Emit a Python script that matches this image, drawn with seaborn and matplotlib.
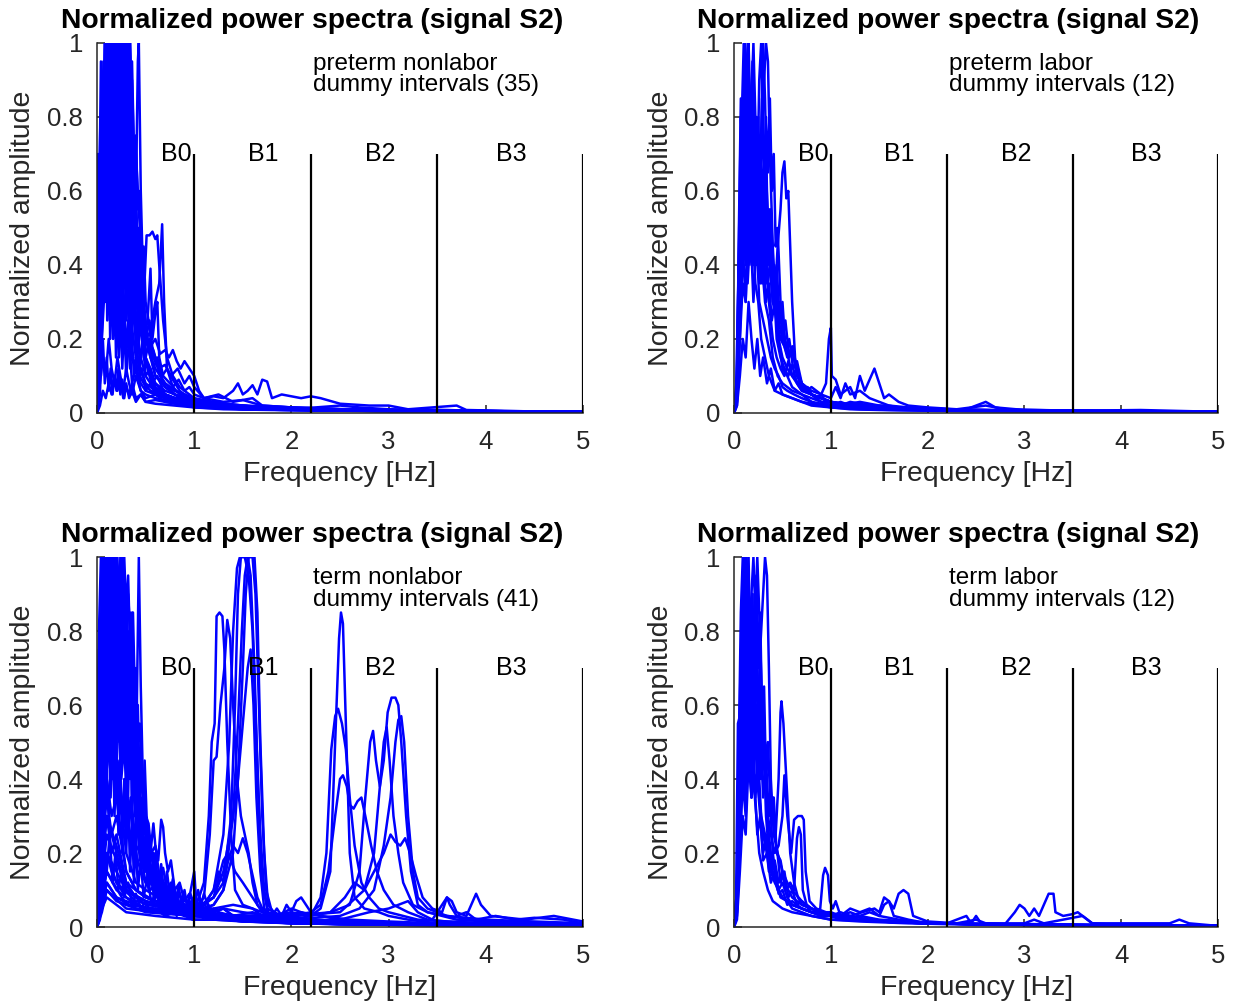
import numpy as np
import pandas as pd
import seaborn as sns
import matplotlib.pyplot as plt

# ---------------------------------------------------------------- data
# every curve is a list of (frequency [Hz], normalized amplitude)

TITLE = "Normalized power spectra (signal S2)"
PANEL_NOTES = ["preterm nonlabor\ndummy intervals (35)",
               "preterm labor\ndummy intervals (12)",
               "term nonlabor\ndummy intervals (41)",
               "term labor\ndummy intervals (12)"]

BAND_EDGES = [1.0, 2.2, 3.5, 5.0]
BAND_NAMES = ["B0", "B1", "B2", "B3"]
BAND_LABEL_X = [0.82, 1.71, 2.91, 4.26]

X_TICKS = [0, 1, 2, 3, 4, 5]
Y_TICKS = [0, 0.2, 0.4, 0.6, 0.8, 1]
Y_TICK_LABELS = ["0", "0.2", "0.4", "0.6", "0.8", "1"]

preterm_nonlabor = [
    [(0,0.10),(0.03,0.45),(0.05,0.92),(0.07,0.55),(0.1,0.7),(0.13,0.4),(0.16,0.6),(0.2,0.35),(0.24,0.5),(0.28,0.25),(0.32,0.3),(0.36,0.15),(0.4,0.12),(0.45,0.08),(0.5,0.06),(0.6,0.05),(0.7,0.04),(0.85,0.03),(1.0,0.02),(1.3,0.015),(1.6,0.01),(2.2,0.008),(3.0,0.005),(4.0,0.004),(5.0,0.003)],
    [(0,0.3),(0.03,0.6),(0.06,0.8),(0.09,0.95),(0.12,1.0),(0.14,0.85),(0.17,1.0),(0.2,0.75),(0.23,0.9),(0.26,0.55),(0.3,0.6),(0.33,0.35),(0.37,0.3),(0.41,0.18),(0.45,0.15),(0.5,0.1),(0.55,0.08),(0.62,0.06),(0.7,0.05),(0.8,0.04),(0.9,0.035),(1.0,0.03),(1.2,0.02),(1.5,0.015),(2.0,0.01),(2.6,0.008),(3.5,0.005),(5.0,0.003)],
    [(0,0.05),(0.03,0.2),(0.06,0.35),(0.09,0.5),(0.12,0.45),(0.15,0.7),(0.18,0.6),(0.21,0.85),(0.24,1.0),(0.27,0.9),(0.3,1.0),(0.33,0.8),(0.36,0.9),(0.39,0.6),(0.42,0.45),(0.46,0.3),(0.5,0.2),(0.55,0.15),(0.6,0.12),(0.7,0.08),(0.8,0.05),(0.9,0.04),(1.0,0.03),(1.2,0.02),(1.5,0.02),(1.8,0.012),(2.3,0.01),(3.0,0.006),(4.0,0.004),(5.0,0.003)],
    [(0,0.02),(0.03,0.1),(0.06,0.25),(0.09,0.4),(0.12,0.3),(0.15,0.55),(0.18,0.45),(0.21,0.65),(0.24,0.5),(0.27,0.75),(0.3,0.6),(0.33,0.8),(0.36,0.5),(0.39,0.4),(0.42,0.95),(0.43,1.0),(0.45,0.6),(0.48,0.3),(0.52,0.2),(0.56,0.15),(0.6,0.1),(0.7,0.07),(0.8,0.05),(0.9,0.04),(1.0,0.03),(1.2,0.02),(1.5,0.015),(2.0,0.01),(3.0,0.006),(5.0,0.003)],
    [(0,0.15),(0.03,0.4),(0.06,0.6),(0.09,0.85),(0.12,0.7),(0.15,1.0),(0.18,0.8),(0.21,0.95),(0.24,0.7),(0.27,0.8),(0.3,0.55),(0.33,0.65),(0.36,0.45),(0.4,0.5),(0.44,0.35),(0.48,0.3),(0.51,0.48),(0.54,0.48),(0.57,0.49),(0.6,0.47),(0.62,0.48),(0.64,0.4),(0.68,0.25),(0.72,0.15),(0.78,0.1),(0.85,0.07),(0.95,0.05),(1.05,0.03),(1.3,0.02),(1.6,0.015),(2.0,0.01),(3.0,0.006),(5.0,0.003)],
    [(0,0.08),(0.03,0.3),(0.06,0.5),(0.09,0.7),(0.12,0.9),(0.15,0.75),(0.18,1.0),(0.21,0.85),(0.24,0.95),(0.27,0.7),(0.3,0.85),(0.33,0.6),(0.36,0.55),(0.39,0.4),(0.42,0.35),(0.46,0.25),(0.5,0.2),(0.55,0.22),(0.6,0.3),(0.64,0.35),(0.67,0.51),(0.69,0.3),(0.72,0.12),(0.78,0.09),(0.85,0.06),(0.95,0.04),(1.05,0.03),(1.3,0.02),(1.7,0.012),(2.2,0.008),(3.0,0.005),(5.0,0.003)],
    [(0,0.2),(0.03,0.5),(0.06,0.75),(0.09,0.6),(0.12,0.85),(0.15,0.65),(0.18,0.9),(0.21,1.0),(0.24,0.8),(0.27,0.9),(0.3,0.65),(0.33,0.7),(0.36,0.45),(0.4,0.3),(0.44,0.25),(0.48,0.2),(0.52,0.25),(0.55,0.39),(0.57,0.2),(0.6,0.27),(0.62,0.3),(0.64,0.15),(0.68,0.1),(0.75,0.08),(0.85,0.05),(0.95,0.04),(1.1,0.03),(1.4,0.02),(1.8,0.01),(2.5,0.007),(3.5,0.005),(5.0,0.003)],
    [(0,0.1),(0.03,0.35),(0.06,0.55),(0.09,0.4),(0.12,0.6),(0.15,0.45),(0.18,0.7),(0.21,0.5),(0.24,0.65),(0.27,0.4),(0.3,0.5),(0.33,0.3),(0.36,0.35),(0.4,0.25),(0.45,0.22),(0.5,0.2),(0.55,0.18),(0.6,0.2),(0.65,0.16),(0.7,0.17),(0.74,0.15),(0.78,0.17),(0.82,0.14),(0.86,0.12),(0.9,0.14),(0.95,0.12),(1.0,0.1),(1.05,0.06),(1.1,0.04),(1.2,0.045),(1.3,0.04),(1.4,0.06),(1.45,0.08),(1.5,0.05),(1.55,0.06),(1.6,0.075),(1.65,0.05),(1.7,0.09),(1.75,0.085),(1.8,0.04),(1.9,0.05),(2.0,0.045),(2.1,0.04),(2.2,0.045),(2.3,0.04),(2.5,0.025),(2.8,0.02),(3.0,0.02),(3.2,0.01),(3.6,0.008),(4.0,0.005),(5.0,0.004)],
    [(0,0.0),(0.03,0.02),(0.06,0.06),(0.09,0.04),(0.12,0.08),(0.15,0.05),(0.18,0.1),(0.21,0.06),(0.24,0.09),(0.27,0.04),(0.3,0.07),(0.33,0.05),(0.36,0.08),(0.4,0.04),(0.45,0.05),(0.5,0.03),(0.6,0.035),(0.7,0.03),(0.8,0.025),(0.9,0.02),(1.0,0.02),(1.2,0.015),(1.5,0.012),(2.0,0.01),(2.5,0.008),(3.0,0.006),(3.7,0.02),(3.8,0.008),(4.5,0.004),(5.0,0.003)],
    [(0,0.25),(0.02,0.7),(0.04,0.5),(0.07,0.8),(0.1,1.0),(0.13,0.7),(0.16,0.85),(0.19,0.55),(0.22,0.75),(0.25,0.5),(0.28,0.95),(0.31,0.7),(0.34,1.0),(0.37,0.75),(0.4,0.55),(0.43,0.4),(0.47,0.3),(0.52,0.2),(0.58,0.17),(0.63,0.12),(0.7,0.13),(0.76,0.1),(0.83,0.12),(0.9,0.08),(0.95,0.1),(1.0,0.07),(1.1,0.04),(1.3,0.03),(1.5,0.035),(1.7,0.02),(2.0,0.015),(2.5,0.01),(3.0,0.008),(4.0,0.005),(5.0,0.003)],
    [(0,0.05),(0.03,0.08),(0.06,0.15),(0.09,0.1),(0.12,0.2),(0.15,0.12),(0.18,0.08),(0.21,0.15),(0.24,0.1),(0.27,0.06),(0.3,0.12),(0.33,0.08),(0.36,0.05),(0.4,0.1),(0.45,0.06),(0.5,0.04),(0.6,0.05),(0.7,0.03),(0.85,0.025),(1.0,0.015),(1.3,0.01),(1.8,0.008),(2.5,0.006),(3.5,0.004),(5.0,0.002)],
    [(0,0.4),(0.02,0.6),(0.05,0.3),(0.08,0.5),(0.11,0.3),(0.14,0.6),(0.17,0.4),(0.2,0.55),(0.23,0.35),(0.26,0.45),(0.3,0.3),(0.34,1.0),(0.37,0.6),(0.4,0.7),(0.44,0.5),(0.47,0.3),(0.5,0.15),(0.55,0.1),(0.6,0.08),(0.7,0.06),(0.8,0.05),(0.9,0.03),(1.0,0.025),(1.2,0.02),(1.5,0.02),(1.8,0.01),(2.2,0.01),(2.6,0.008),(3.0,0.01),(3.2,0.006),(4.0,0.004),(5.0,0.003)],
    [(0,0.0),(0.03,0.05),(0.06,0.3),(0.09,0.6),(0.12,0.45),(0.15,0.8),(0.18,0.55),(0.21,0.75),(0.24,0.45),(0.27,0.6),(0.3,0.4),(0.33,0.5),(0.36,0.3),(0.4,0.2),(0.44,0.1),(0.48,0.08),(0.55,0.06),(0.65,0.05),(0.75,0.04),(0.9,0.03),(1.0,0.02),(1.3,0.015),(1.6,0.012),(2.0,0.01),(2.5,0.02),(2.7,0.015),(3.0,0.01),(3.5,0.006),(5.0,0.003)],
    [(0,0.12),(0.03,0.25),(0.06,0.45),(0.09,0.3),(0.12,0.5),(0.15,0.35),(0.18,0.55),(0.21,0.3),(0.24,0.4),(0.27,0.25),(0.3,0.35),(0.34,0.2),(0.38,0.3),(0.42,0.2),(0.46,0.28),(0.5,0.15),(0.54,0.2),(0.58,0.12),(0.62,0.15),(0.67,0.1),(0.72,0.12),(0.78,0.07),(0.84,0.09),(0.9,0.06),(0.95,0.07),(1.0,0.05),(1.1,0.04),(1.25,0.05),(1.4,0.03),(1.6,0.04),(1.7,0.02),(2.0,0.015),(2.5,0.01),(3.0,0.008),(3.5,0.006),(5.0,0.003)],
    [(0,0.7),(0.02,0.4),(0.04,0.75),(0.06,0.5),(0.08,0.9),(0.11,0.65),(0.14,1.0),(0.17,0.7),(0.2,0.8),(0.23,0.5),(0.26,0.65),(0.3,0.4),(0.35,0.25),(0.4,0.15),(0.45,0.12),(0.5,0.08),(0.6,0.06),(0.75,0.04),(0.9,0.03),(1.0,0.02),(1.5,0.01),(2.0,0.008),(3.0,0.005),(5.0,0.003)],
    [(0,0.2),(0.02,0.55),(0.035,0.8),(0.05,0.5),(0.065,0.95),(0.08,0.6),(0.095,1.0),(0.11,0.7),(0.125,1.0),(0.14,0.65),(0.155,0.95),(0.17,0.55),(0.185,1.0),(0.2,0.6),(0.215,0.9),(0.23,0.5),(0.245,1.0),(0.26,0.7),(0.275,0.95),(0.29,0.55),(0.305,0.85),(0.32,0.45),(0.335,0.75),(0.35,0.4),(0.365,0.6),(0.38,0.3),(0.4,0.45),(0.42,0.25),(0.45,0.3),(0.48,0.15),(0.52,0.12),(0.56,0.08),(0.62,0.1),(0.7,0.05),(0.8,0.04),(0.9,0.03),(1.0,0.02),(1.2,0.015),(1.6,0.01),(2.2,0.008),(3.0,0.005),(5.0,0.003)],
    [(0,0.05),(0.02,0.3),(0.04,0.6),(0.055,0.35),(0.07,0.75),(0.085,0.45),(0.1,0.85),(0.115,0.5),(0.13,0.9),(0.145,0.55),(0.16,1.0),(0.175,0.6),(0.19,0.95),(0.205,0.45),(0.22,1.0),(0.235,0.55),(0.25,0.9),(0.265,0.45),(0.28,1.0),(0.295,0.6),(0.31,1.0),(0.325,0.65),(0.34,0.9),(0.355,0.5),(0.37,0.7),(0.385,0.4),(0.4,0.55),(0.415,0.35),(0.43,0.5),(0.45,0.3),(0.47,0.4),(0.5,0.2),(0.54,0.25),(0.58,0.15),(0.63,0.12),(0.7,0.07),(0.8,0.05),(0.9,0.04),(1.0,0.03),(1.3,0.02),(1.8,0.012),(2.5,0.008),(3.5,0.005),(5.0,0.003)],
    [(0,0.12),(0.015,0.4),(0.03,0.25),(0.045,0.65),(0.06,0.4),(0.075,0.85),(0.09,0.35),(0.105,0.7),(0.12,0.3),(0.135,0.8),(0.15,0.4),(0.165,0.75),(0.18,0.3),(0.195,0.85),(0.21,0.4),(0.225,0.7),(0.24,0.3),(0.255,0.8),(0.27,0.35),(0.285,0.65),(0.3,0.25),(0.315,0.6),(0.33,0.2),(0.345,0.5),(0.36,0.2),(0.38,0.4),(0.4,0.15),(0.42,0.3),(0.44,0.12),(0.47,0.2),(0.5,0.1),(0.55,0.12),(0.6,0.06),(0.7,0.05),(0.8,0.04),(1.0,0.025),(1.4,0.015),(2.0,0.01),(3.0,0.006),(5.0,0.003)],
    [(0,0.08),(0.02,0.15),(0.04,0.1),(0.06,0.2),(0.08,0.08),(0.1,0.15),(0.12,0.06),(0.14,0.12),(0.16,0.05),(0.18,0.1),(0.2,0.06),(0.22,0.12),(0.24,0.05),(0.26,0.09),(0.28,0.04),(0.3,0.08),(0.33,0.04),(0.36,0.06),(0.4,0.03),(0.45,0.05),(0.5,0.03),(0.6,0.025),(0.8,0.02),(1.0,0.015),(1.5,0.01),(2.5,0.006),(5.0,0.003)],
    [(0,0.3),(0.02,0.65),(0.035,0.45),(0.05,0.85),(0.065,0.7),(0.08,1.0),(0.1,0.8),(0.12,1.0),(0.14,0.85),(0.16,1.0),(0.18,0.8),(0.2,1.0),(0.22,0.9),(0.24,1.0),(0.26,0.85),(0.28,1.0),(0.3,0.9),(0.32,1.0),(0.34,0.8),(0.36,0.95),(0.38,0.7),(0.4,0.75),(0.42,0.55),(0.44,0.6),(0.46,0.4),(0.48,0.45),(0.5,0.3),(0.53,0.25),(0.56,0.18),(0.6,0.15),(0.65,0.1),(0.7,0.08),(0.8,0.06),(0.9,0.05),(1.0,0.035),(1.1,0.03),(1.3,0.025),(1.5,0.02),(2.0,0.012),(3.0,0.006),(5.0,0.003)],
    [(0,0.15),(0.02,0.4),(0.04,0.7),(0.06,0.55),(0.08,0.9),(0.1,0.65),(0.12,0.95),(0.14,0.7),(0.16,0.9),(0.18,0.75),(0.2,1.0),(0.22,0.7),(0.24,0.9),(0.26,0.6),(0.28,0.8),(0.3,0.7),(0.32,0.95),(0.34,0.65),(0.36,0.8),(0.38,0.5),(0.4,0.6),(0.42,0.4),(0.44,0.45),(0.46,0.3),(0.5,0.22),(0.55,0.15),(0.6,0.1),(0.7,0.08),(0.8,0.06),(0.9,0.05),(1.0,0.04),(1.2,0.03),(1.5,0.02),(2.0,0.015),(2.6,0.01),(3.5,0.006),(5.0,0.003)],
    [(0,0.45),(0.01,0.6),(0.025,0.3),(0.04,0.55),(0.055,0.85),(0.07,0.5),(0.085,0.8),(0.1,0.45),(0.115,0.9),(0.13,0.5),(0.145,0.85),(0.16,0.45),(0.175,0.9),(0.19,0.5),(0.205,0.85),(0.22,0.45),(0.235,0.8),(0.25,0.4),(0.265,0.9),(0.28,0.45),(0.295,0.85),(0.31,0.4),(0.325,0.8),(0.34,0.35),(0.355,0.7),(0.37,0.3),(0.385,0.6),(0.4,0.3),(0.42,0.45),(0.44,0.25),(0.46,0.3),(0.5,0.15),(0.55,0.12),(0.6,0.08),(0.7,0.05),(0.8,0.04),(1.0,0.025),(1.5,0.012),(2.5,0.007),(5.0,0.003)],
    [(0,0.2),(0.02,0.5),(0.04,0.95),(0.06,0.75),(0.08,1.0),(0.1,0.9),(0.12,0.7),(0.14,0.95),(0.16,0.75),(0.18,0.6),(0.2,0.85),(0.22,0.65),(0.24,0.85),(0.26,1.0),(0.28,0.75),(0.3,0.6),(0.32,0.85),(0.34,0.55),(0.36,0.7),(0.38,0.45),(0.4,0.35),(0.43,0.25),(0.46,0.2),(0.5,0.15),(0.55,0.1),(0.6,0.07),(0.7,0.05),(0.8,0.04),(1.0,0.03),(1.5,0.015),(2.5,0.008),(5.0,0.003)],
    [(0,0.1),(0.02,0.25),(0.04,0.45),(0.06,0.3),(0.08,0.55),(0.1,0.35),(0.12,0.65),(0.14,0.4),(0.16,0.55),(0.18,0.3),(0.2,0.45),(0.22,0.25),(0.24,0.35),(0.26,0.2),(0.28,0.3),(0.3,0.15),(0.32,0.25),(0.34,0.12),(0.36,0.2),(0.38,0.1),(0.4,0.15),(0.43,0.08),(0.46,0.12),(0.5,0.06),(0.55,0.08),(0.6,0.05),(0.7,0.04),(0.85,0.03),(1.0,0.02),(1.5,0.012),(2.5,0.007),(5.0,0.003)],
    [(0,0.35),(0.015,0.55),(0.03,0.7),(0.045,0.4),(0.06,0.6),(0.075,0.3),(0.09,0.55),(0.105,0.25),(0.12,0.5),(0.135,0.2),(0.15,0.45),(0.165,0.2),(0.18,0.4),(0.195,0.15),(0.21,0.35),(0.225,0.15),(0.24,0.3),(0.26,0.12),(0.28,0.25),(0.3,0.1),(0.33,0.2),(0.36,0.08),(0.4,0.12),(0.45,0.06),(0.5,0.05),(0.6,0.04),(0.8,0.03),(1.0,0.02),(1.5,0.01),(2.5,0.006),(5.0,0.003)],
]

preterm_labor = [
    [(0,0.0),(0.03,0.05),(0.06,0.5),(0.08,0.8),(0.1,1.0),(0.12,0.85),(0.14,0.95),(0.16,0.7),(0.19,0.5),(0.22,0.35),(0.25,0.3),(0.28,0.2),(0.32,0.15),(0.36,0.1),(0.42,0.06),(0.5,0.05),(0.6,0.04),(0.7,0.03),(0.8,0.025),(0.9,0.02),(1.0,0.015),(1.2,0.01),(1.5,0.008),(2.0,0.006),(3.0,0.004),(5.0,0.003)],
    [(0,0.0),(0.03,0.08),(0.05,0.4),(0.07,0.62),(0.09,0.8),(0.11,0.7),(0.13,0.95),(0.15,1.0),(0.17,0.8),(0.2,0.6),(0.23,0.75),(0.26,0.5),(0.29,0.4),(0.32,0.3),(0.36,0.25),(0.4,0.15),(0.45,0.1),(0.5,0.08),(0.6,0.06),(0.7,0.05),(0.8,0.03),(1.0,0.02),(1.3,0.015),(1.7,0.01),(2.5,0.006),(3.5,0.004),(5.0,0.003)],
    [(0,0.0),(0.03,0.02),(0.06,0.2),(0.09,0.45),(0.12,0.3),(0.15,0.6),(0.18,0.85),(0.2,1.0),(0.22,0.8),(0.25,0.6),(0.28,0.7),(0.31,0.9),(0.33,1.0),(0.35,0.95),(0.37,0.7),(0.4,0.45),(0.43,0.3),(0.46,0.2),(0.5,0.15),(0.55,0.12),(0.6,0.1),(0.7,0.07),(0.8,0.05),(0.9,0.04),(1.0,0.03),(1.2,0.02),(1.5,0.015),(2.0,0.01),(2.6,0.008),(3.5,0.005),(5.0,0.003)],
    [(0,0.0),(0.03,0.03),(0.06,0.25),(0.09,0.4),(0.12,0.55),(0.15,0.4),(0.18,0.6),(0.21,0.45),(0.24,0.55),(0.27,0.35),(0.3,0.5),(0.33,0.3),(0.36,0.35),(0.39,0.25),(0.42,0.3),(0.45,0.45),(0.48,0.55),(0.5,0.65),(0.52,0.68),(0.54,0.58),(0.56,0.6),(0.58,0.45),(0.6,0.3),(0.63,0.15),(0.66,0.1),(0.7,0.07),(0.8,0.05),(0.9,0.04),(1.0,0.03),(1.2,0.02),(1.5,0.015),(2.0,0.01),(3.0,0.006),(5.0,0.003)],
    [(0,0.0),(0.03,0.1),(0.05,0.45),(0.07,0.8),(0.09,0.7),(0.11,0.9),(0.13,0.6),(0.16,0.75),(0.19,0.5),(0.22,0.4),(0.25,0.55),(0.28,0.75),(0.3,1.0),(0.32,0.85),(0.34,0.6),(0.37,0.4),(0.4,0.3),(0.43,0.35),(0.46,0.25),(0.5,0.2),(0.55,0.15),(0.6,0.18),(0.65,0.1),(0.7,0.08),(0.8,0.06),(0.9,0.05),(0.95,0.08),(0.98,0.2),(1.0,0.23),(1.01,0.1),(1.05,0.09),(1.1,0.05),(1.2,0.07),(1.25,0.04),(1.3,0.1),(1.35,0.06),(1.45,0.12),(1.5,0.08),(1.55,0.04),(1.6,0.05),(1.7,0.03),(1.8,0.02),(2.0,0.015),(2.3,0.01),(2.6,0.02),(2.8,0.01),(3.5,0.006),(4.2,0.008),(5.0,0.003)],
    [(0,0.0),(0.02,0.05),(0.04,0.3),(0.06,0.55),(0.08,0.45),(0.1,0.7),(0.12,0.5),(0.14,0.35),(0.17,0.5),(0.2,0.3),(0.23,0.45),(0.26,0.9),(0.28,1.0),(0.3,0.75),(0.33,0.5),(0.36,0.55),(0.4,0.4),(0.44,0.2),(0.48,0.15),(0.52,0.12),(0.56,0.1),(0.6,0.13),(0.65,0.08),(0.7,0.06),(0.8,0.05),(0.9,0.03),(1.0,0.03),(1.1,0.02),(1.3,0.03),(1.5,0.02),(1.8,0.01),(2.2,0.008),(3.0,0.005),(5.0,0.003)],
    [(0,0.0),(0.03,0.02),(0.06,0.1),(0.09,0.2),(0.12,0.15),(0.15,0.3),(0.18,0.2),(0.21,0.12),(0.24,0.2),(0.27,0.1),(0.3,0.15),(0.34,0.08),(0.38,0.12),(0.42,0.06),(0.46,0.08),(0.5,0.05),(0.6,0.04),(0.7,0.03),(0.8,0.02),(1.0,0.015),(1.3,0.01),(2.0,0.006),(3.0,0.004),(5.0,0.002)],
    [(0,0.0),(0.03,0.04),(0.06,0.35),(0.09,0.6),(0.12,0.8),(0.14,1.0),(0.16,0.75),(0.19,0.85),(0.22,0.55),(0.25,0.7),(0.28,0.45),(0.31,0.55),(0.34,0.35),(0.37,0.4),(0.4,0.3),(0.44,0.25),(0.48,0.2),(0.52,0.18),(0.56,0.15),(0.6,0.17),(0.64,0.12),(0.68,0.08),(0.72,0.06),(0.76,0.07),(0.8,0.05),(0.85,0.04),(0.9,0.05),(0.95,0.03),(1.0,0.02),(1.1,0.02),(1.2,0.03),(1.4,0.02),(1.6,0.02),(1.8,0.01),(2.5,0.006),(3.5,0.005),(5.0,0.003)],
    [(0,0.0),(0.03,0.05),(0.05,0.2),(0.08,0.4),(0.11,0.6),(0.14,0.45),(0.17,0.65),(0.2,0.4),(0.23,0.5),(0.26,0.3),(0.3,0.25),(0.34,0.2),(0.38,0.15),(0.42,0.12),(0.46,0.1),(0.5,0.07),(0.55,0.06),(0.62,0.05),(0.7,0.04),(0.8,0.03),(0.9,0.02),(1.0,0.02),(1.1,0.03),(1.2,0.02),(1.4,0.02),(1.6,0.015),(2.0,0.01),(2.4,0.01),(2.6,0.03),(2.7,0.015),(3.0,0.008),(4.0,0.005),(5.0,0.003)],
    [(0,0.0),(0.03,0.06),(0.06,0.3),(0.09,0.5),(0.12,0.4),(0.15,0.7),(0.18,0.5),(0.21,0.8),(0.24,0.55),(0.27,0.65),(0.3,0.4),(0.33,0.45),(0.36,0.3),(0.4,0.2),(0.44,0.15),(0.48,0.12),(0.52,0.1),(0.56,0.14),(0.6,0.1),(0.65,0.12),(0.7,0.08),(0.75,0.06),(0.8,0.07),(0.9,0.05),(1.0,0.04),(1.05,0.07),(1.1,0.04),(1.15,0.08),(1.2,0.05),(1.3,0.06),(1.4,0.04),(1.5,0.03),(1.6,0.02),(2.0,0.01),(3.0,0.006),(5.0,0.003)],
    [(0,0.0),(0.03,0.08),(0.05,0.5),(0.07,0.85),(0.09,0.6),(0.11,1.0),(0.13,0.75),(0.15,0.95),(0.17,0.6),(0.19,0.85),(0.21,0.55),(0.23,0.8),(0.25,0.5),(0.27,0.75),(0.29,0.45),(0.31,0.65),(0.33,0.4),(0.35,0.55),(0.38,0.35),(0.41,0.4),(0.44,0.25),(0.47,0.3),(0.5,0.2),(0.53,0.25),(0.57,0.15),(0.61,0.18),(0.65,0.1),(0.7,0.08),(0.75,0.06),(0.8,0.05),(0.9,0.04),(1.0,0.03),(1.2,0.02),(1.6,0.015),(2.5,0.008),(5.0,0.003)],
    [(0,0.0),(0.03,0.05),(0.05,0.3),(0.07,0.55),(0.09,0.85),(0.11,0.6),(0.13,0.8),(0.15,0.55),(0.17,0.7),(0.19,0.95),(0.21,0.7),(0.23,0.55),(0.25,0.8),(0.27,0.6),(0.29,0.85),(0.31,0.6),(0.33,0.7),(0.35,0.45),(0.37,0.55),(0.4,0.35),(0.43,0.3),(0.46,0.2),(0.5,0.12),(0.55,0.1),(0.6,0.07),(0.7,0.05),(0.8,0.04),(0.9,0.03),(1.0,0.02),(1.5,0.012),(2.5,0.007),(5.0,0.003)],
    [(0,0.0),(0.03,0.04),(0.06,0.2),(0.09,0.35),(0.12,0.3),(0.15,0.5),(0.18,0.4),(0.21,0.6),(0.24,0.5),(0.27,0.7),(0.3,0.6),(0.33,0.8),(0.35,0.65),(0.37,0.85),(0.39,0.6),(0.41,0.7),(0.43,0.45),(0.45,0.5),(0.48,0.3),(0.52,0.2),(0.56,0.15),(0.6,0.1),(0.65,0.08),(0.7,0.06),(0.8,0.05),(1.0,0.03),(1.2,0.02),(1.6,0.012),(2.5,0.007),(5.0,0.003)],
    [(0,0.0),(0.03,0.06),(0.05,0.35),(0.07,0.6),(0.09,0.5),(0.11,0.75),(0.13,0.55),(0.15,0.7),(0.17,0.45),(0.2,0.65),(0.23,0.4),(0.26,0.55),(0.29,0.35),(0.32,0.5),(0.35,0.4),(0.38,0.55),(0.41,0.35),(0.44,0.4),(0.47,0.25),(0.5,0.3),(0.53,0.18),(0.57,0.2),(0.61,0.12),(0.65,0.14),(0.7,0.08),(0.75,0.06),(0.8,0.05),(0.9,0.04),(1.0,0.03),(1.5,0.015),(2.5,0.008),(5.0,0.003)],
]

term_nonlabor = [
    [(0,0.05),(0.03,0.5),(0.05,0.9),(0.07,0.6),(0.1,1.0),(0.13,0.75),(0.16,0.9),(0.19,0.6),(0.22,0.8),(0.25,0.5),(0.28,0.6),(0.31,0.35),(0.35,0.3),(0.4,0.2),(0.45,0.15),(0.5,0.12),(0.55,0.1),(0.6,0.12),(0.65,0.08),(0.7,0.1),(0.75,0.06),(0.8,0.08),(0.85,0.05),(0.9,0.06),(0.95,0.04),(1.0,0.05),(1.05,0.03),(1.15,0.04),(1.3,0.02),(1.5,0.03),(1.7,0.015),(2.0,0.01),(2.5,0.008),(3.0,0.006),(4.0,0.004),(5.0,0.003)],
    [(0,0.2),(0.02,0.6),(0.04,0.35),(0.06,0.8),(0.08,0.95),(0.1,0.7),(0.12,1.0),(0.15,0.8),(0.18,1.0),(0.21,0.85),(0.24,0.95),(0.27,0.7),(0.3,0.8),(0.33,0.55),(0.36,0.45),(0.4,0.3),(0.44,0.25),(0.48,0.18),(0.52,0.15),(0.56,0.2),(0.6,0.12),(0.65,0.15),(0.7,0.09),(0.75,0.1),(0.8,0.07),(0.9,0.06),(1.0,0.04),(1.1,0.05),(1.2,0.03),(1.4,0.02),(1.8,0.015),(2.2,0.01),(3.0,0.006),(4.0,0.004),(5.0,0.003)],
    [(0,0.0),(0.03,0.05),(0.06,0.2),(0.09,0.45),(0.12,0.3),(0.15,0.55),(0.18,0.4),(0.21,0.6),(0.24,0.45),(0.27,0.7),(0.3,0.5),(0.33,0.6),(0.36,0.4),(0.39,0.35),(0.41,0.6),(0.43,1.0),(0.45,0.65),(0.48,0.3),(0.52,0.2),(0.56,0.15),(0.6,0.1),(0.65,0.12),(0.7,0.08),(0.8,0.06),(0.9,0.05),(1.0,0.04),(1.2,0.03),(1.5,0.02),(2.0,0.015),(3.0,0.008),(5.0,0.004)],
    [(0,0.1),(0.03,0.4),(0.06,0.65),(0.09,0.5),(0.12,0.75),(0.15,0.9),(0.18,0.6),(0.21,0.8),(0.24,0.55),(0.27,0.75),(0.3,0.6),(0.33,0.7),(0.36,0.45),(0.4,0.35),(0.44,0.3),(0.47,0.25),(0.49,0.45),(0.51,0.3),(0.55,0.2),(0.58,0.28),(0.6,0.22),(0.63,0.18),(0.66,0.29),(0.68,0.27),(0.7,0.2),(0.73,0.15),(0.76,0.18),(0.8,0.1),(0.85,0.12),(0.9,0.07),(0.95,0.09),(1.0,0.06),(1.05,0.04),(1.1,0.06),(1.2,0.04),(1.3,0.05),(1.4,0.03),(1.6,0.03),(1.8,0.02),(2.0,0.02),(2.5,0.01),(3.0,0.008),(4.0,0.005),(5.0,0.003)],
    [(0,0.3),(0.02,0.5),(0.04,0.8),(0.06,1.0),(0.08,0.85),(0.1,0.95),(0.13,0.7),(0.16,0.85),(0.19,0.55),(0.22,0.65),(0.25,0.4),(0.28,0.5),(0.31,0.3),(0.35,0.35),(0.4,0.22),(0.45,0.2),(0.5,0.15),(0.55,0.17),(0.6,0.12),(0.65,0.1),(0.7,0.12),(0.75,0.08),(0.8,0.1),(0.85,0.06),(0.9,0.08),(0.95,0.05),(1.0,0.07),(1.05,0.04),(1.1,0.05),(1.2,0.03),(1.4,0.03),(1.6,0.02),(2.0,0.015),(2.5,0.01),(3.5,0.006),(5.0,0.003)],
    [(0,0.0),(0.03,0.1),(0.05,0.3),(0.08,0.55),(0.11,0.8),(0.14,1.0),(0.17,0.9),(0.2,1.0),(0.23,0.85),(0.26,1.0),(0.29,0.8),(0.32,0.9),(0.35,0.75),(0.37,0.85),(0.4,0.5),(0.43,0.35),(0.46,0.25),(0.5,0.2),(0.55,0.14),(0.6,0.1),(0.7,0.07),(0.8,0.05),(0.9,0.04),(1.0,0.04),(1.2,0.03),(1.5,0.02),(2.0,0.01),(3.0,0.006),(5.0,0.003)],
    [(0,0.0),(0.03,0.02),(0.05,0.1),(0.07,0.2),(0.1,0.15),(0.13,0.25),(0.16,0.12),(0.19,0.2),(0.22,0.1),(0.25,0.15),(0.28,0.08),(0.32,0.12),(0.36,0.06),(0.4,0.09),(0.45,0.05),(0.5,0.07),(0.55,0.04),(0.6,0.05),(0.7,0.03),(0.8,0.04),(0.9,0.03),(1.0,0.02),(1.2,0.02),(1.5,0.015),(2.0,0.01),(2.6,0.008),(3.2,0.006),(4.0,0.004),(5.0,0.003)],
    [(0,0.15),(0.03,0.3),(0.06,0.5),(0.09,0.35),(0.12,0.6),(0.15,0.4),(0.18,0.7),(0.21,1.0),(0.24,0.75),(0.27,0.85),(0.3,0.55),(0.33,0.6),(0.36,0.4),(0.4,0.3),(0.45,0.2),(0.5,0.12),(0.55,0.15),(0.6,0.1),(0.65,0.14),(0.7,0.08),(0.75,0.11),(0.8,0.06),(0.85,0.09),(0.9,0.05),(0.95,0.08),(1.0,0.15),(1.02,0.07),(1.06,0.05),(1.1,0.09),(1.15,0.05),(1.25,0.04),(1.4,0.03),(1.7,0.02),(2.0,0.015),(2.5,0.01),(3.5,0.006),(5.0,0.003)],
    [(0,0.2),(0.02,0.7),(0.035,0.5),(0.05,0.95),(0.065,0.75),(0.08,1.0),(0.1,0.85),(0.12,1.0),(0.14,0.8),(0.16,1.0),(0.18,0.85),(0.2,1.0),(0.22,0.8),(0.24,1.0),(0.26,0.9),(0.28,1.0),(0.3,0.85),(0.32,0.95),(0.34,0.75),(0.36,0.85),(0.38,0.6),(0.4,0.7),(0.42,0.5),(0.44,0.55),(0.46,0.4),(0.48,0.42),(0.5,0.3),(0.53,0.28),(0.56,0.2),(0.6,0.22),(0.64,0.14),(0.68,0.16),(0.72,0.1),(0.76,0.12),(0.8,0.07),(0.85,0.09),(0.9,0.05),(0.95,0.07),(1.0,0.04),(1.1,0.05),(1.2,0.03),(1.4,0.03),(1.7,0.02),(2.0,0.015),(2.5,0.01),(3.5,0.006),(5.0,0.004)],
    [(0,0.1),(0.02,0.45),(0.035,0.8),(0.05,0.5),(0.065,1.0),(0.08,0.6),(0.095,0.95),(0.11,0.55),(0.125,1.0),(0.14,0.6),(0.155,0.9),(0.17,0.5),(0.185,1.0),(0.2,0.55),(0.215,0.95),(0.23,0.5),(0.245,0.9),(0.26,0.45),(0.275,0.95),(0.29,0.5),(0.305,0.85),(0.32,0.45),(0.335,0.8),(0.35,0.4),(0.365,0.75),(0.38,0.35),(0.4,0.55),(0.42,0.3),(0.44,0.4),(0.46,0.25),(0.49,0.3),(0.52,0.15),(0.56,0.2),(0.6,0.1),(0.63,0.15),(0.67,0.08),(0.71,0.12),(0.75,0.06),(0.79,0.1),(0.83,0.05),(0.87,0.08),(0.92,0.04),(0.97,0.07),(1.0,0.05),(1.05,0.08),(1.1,0.04),(1.2,0.05),(1.3,0.03),(1.5,0.02),(2.0,0.015),(3.0,0.008),(5.0,0.004)],
    [(0,0.25),(0.02,0.55),(0.04,0.35),(0.06,0.7),(0.08,0.4),(0.1,0.8),(0.12,0.45),(0.14,0.85),(0.16,0.5),(0.18,0.9),(0.2,0.45),(0.22,0.85),(0.24,0.4),(0.26,0.8),(0.28,0.45),(0.3,0.75),(0.32,0.35),(0.34,0.65),(0.36,0.3),(0.38,0.55),(0.4,0.25),(0.42,0.45),(0.44,0.2),(0.46,0.3),(0.48,0.15),(0.5,0.2),(0.53,0.1),(0.56,0.14),(0.59,0.07),(0.62,0.11),(0.66,0.05),(0.7,0.09),(0.74,0.04),(0.78,0.08),(0.82,0.03),(0.86,0.07),(0.9,0.03),(0.94,0.06),(0.98,0.02),(1.02,0.05),(1.1,0.02),(1.3,0.03),(1.6,0.015),(2.0,0.01),(3.0,0.006),(5.0,0.003)],
    [(0,0.0),(0.02,0.15),(0.04,0.4),(0.06,0.6),(0.08,0.45),(0.1,0.75),(0.12,0.5),(0.14,0.7),(0.16,0.4),(0.18,0.55),(0.2,0.35),(0.23,0.45),(0.26,0.3),(0.29,0.4),(0.32,0.25),(0.35,0.35),(0.38,0.2),(0.41,0.3),(0.44,0.18),(0.47,0.25),(0.5,0.15),(0.53,0.22),(0.56,0.12),(0.6,0.2),(0.63,0.1),(0.66,0.17),(0.69,0.09),(0.72,0.15),(0.75,0.08),(0.78,0.13),(0.81,0.07),(0.84,0.11),(0.87,0.06),(0.9,0.1),(0.93,0.05),(0.96,0.09),(1.0,0.06),(1.04,0.1),(1.08,0.05),(1.12,0.07),(1.2,0.04),(1.3,0.05),(1.4,0.03),(1.6,0.04),(1.8,0.02),(2.0,0.03),(2.2,0.02),(2.6,0.015),(3.0,0.01),(4.0,0.006),(5.0,0.004)],
    [(0,0.4),(0.02,0.75),(0.04,0.55),(0.06,0.9),(0.08,0.65),(0.1,1.0),(0.12,0.7),(0.14,0.95),(0.16,0.65),(0.18,0.9),(0.2,0.6),(0.22,0.95),(0.24,0.6),(0.26,0.85),(0.28,0.55),(0.3,0.9),(0.32,0.6),(0.34,0.85),(0.36,0.5),(0.38,0.7),(0.4,0.45),(0.42,0.6),(0.44,0.35),(0.46,0.45),(0.48,0.25),(0.5,0.3),(0.54,0.18),(0.58,0.2),(0.62,0.1),(0.66,0.12),(0.7,0.06),(0.75,0.08),(0.8,0.05),(0.9,0.04),(1.0,0.03),(1.2,0.025),(1.5,0.02),(2.0,0.012),(3.0,0.007),(5.0,0.004)],
    [(0,0.35),(0.015,0.6),(0.03,0.4),(0.045,0.75),(0.06,0.45),(0.075,0.9),(0.09,0.5),(0.105,0.85),(0.12,0.45),(0.135,0.9),(0.15,0.5),(0.165,0.85),(0.18,0.45),(0.195,0.9),(0.21,0.55),(0.225,0.95),(0.24,0.5),(0.255,0.9),(0.27,0.45),(0.285,0.85),(0.3,0.45),(0.315,0.8),(0.33,0.4),(0.345,0.75),(0.36,0.35),(0.375,0.65),(0.39,0.3),(0.41,0.5),(0.43,0.25),(0.45,0.35),(0.47,0.2),(0.5,0.25),(0.53,0.12),(0.56,0.15),(0.6,0.08),(0.65,0.1),(0.7,0.05),(0.8,0.04),(1.0,0.03),(1.5,0.015),(2.5,0.008),(5.0,0.003)],
    [(0,0.1),(0.02,0.3),(0.04,0.55),(0.06,0.4),(0.08,0.65),(0.1,0.4),(0.12,0.6),(0.14,0.35),(0.16,0.55),(0.18,0.3),(0.2,0.5),(0.22,0.25),(0.24,0.45),(0.26,0.2),(0.28,0.4),(0.3,0.2),(0.32,0.35),(0.34,0.15),(0.36,0.3),(0.38,0.12),(0.4,0.25),(0.42,0.1),(0.45,0.18),(0.48,0.08),(0.52,0.14),(0.56,0.06),(0.6,0.1),(0.65,0.05),(0.7,0.08),(0.75,0.04),(0.8,0.06),(0.9,0.03),(1.0,0.04),(1.2,0.02),(1.6,0.015),(2.5,0.008),(5.0,0.003)],
    [(0,0.5),(0.02,0.8),(0.04,1.0),(0.06,0.8),(0.08,1.0),(0.1,0.85),(0.12,1.0),(0.14,0.9),(0.16,1.0),(0.18,0.8),(0.2,0.95),(0.22,0.75),(0.24,0.9),(0.26,0.7),(0.28,0.85),(0.3,0.6),(0.32,0.75),(0.34,0.5),(0.36,0.6),(0.38,0.4),(0.4,0.45),(0.42,0.3),(0.44,0.35),(0.47,0.2),(0.5,0.22),(0.55,0.12),(0.6,0.1),(0.7,0.06),(0.8,0.05),(1.0,0.03),(1.5,0.015),(2.5,0.008),(5.0,0.003)],
    [(0,0.0),(0.05,0.2),(0.1,0.35),(0.15,0.25),(0.2,0.3),(0.3,0.15),(0.4,0.1),(0.5,0.08),(0.7,0.06),(0.9,0.05),(1.0,0.04),(1.1,0.06),(1.2,0.1),(1.3,0.25),(1.36,0.5),(1.4,0.8),(1.44,0.97),(1.47,1.0),(1.52,1.0),(1.56,0.95),(1.6,0.8),(1.64,0.5),(1.68,0.25),(1.72,0.1),(1.76,0.04),(1.85,0.03),(2.0,0.05),(2.1,0.04),(2.3,0.03),(2.5,0.02),(3.0,0.01),(3.5,0.008),(4.0,0.005),(5.0,0.004)],
    [(0,0.0),(0.05,0.15),(0.1,0.3),(0.15,0.2),(0.2,0.25),(0.3,0.12),(0.4,0.08),(0.6,0.06),(0.8,0.05),(1.0,0.04),(1.1,0.05),(1.2,0.06),(1.3,0.1),(1.4,0.3),(1.45,0.55),(1.49,0.8),(1.52,0.95),(1.55,1.0),(1.6,1.0),(1.63,0.9),(1.66,0.65),(1.7,0.3),(1.74,0.1),(1.8,0.04),(1.9,0.03),(2.0,0.02),(2.5,0.015),(3.0,0.01),(4.0,0.006),(5.0,0.004)],
    [(0,0.0),(0.05,0.18),(0.1,0.3),(0.2,0.22),(0.3,0.12),(0.5,0.08),(0.8,0.05),(1.0,0.05),(1.2,0.08),(1.3,0.12),(1.38,0.3),(1.42,0.6),(1.45,0.9),(1.48,1.0),(1.55,1.0),(1.58,0.95),(1.62,0.7),(1.66,0.35),(1.7,0.12),(1.75,0.05),(1.9,0.03),(2.2,0.02),(2.6,0.015),(3.2,0.01),(5.0,0.004)],
    [(0,0.0),(0.05,0.12),(0.1,0.25),(0.2,0.18),(0.3,0.1),(0.5,0.07),(0.8,0.05),(1.0,0.04),(1.2,0.06),(1.3,0.1),(1.4,0.2),(1.45,0.4),(1.5,0.7),(1.53,0.9),(1.56,1.0),(1.62,1.0),(1.65,0.85),(1.68,0.5),(1.72,0.2),(1.76,0.06),(1.85,0.03),(2.0,0.02),(2.5,0.015),(3.0,0.01),(5.0,0.004)],
    [(0,0.0),(0.05,0.3),(0.1,0.5),(0.15,0.4),(0.2,0.45),(0.3,0.2),(0.4,0.12),(0.5,0.1),(0.7,0.07),(0.9,0.06),(1.0,0.05),(1.05,0.08),(1.1,0.12),(1.15,0.3),(1.18,0.5),(1.21,0.55),(1.23,0.84),(1.26,0.85),(1.29,0.84),(1.31,0.75),(1.34,0.5),(1.38,0.25),(1.42,0.1),(1.5,0.06),(1.6,0.05),(1.7,0.03),(2.0,0.02),(2.5,0.015),(3.0,0.01),(4.0,0.006),(5.0,0.004)],
    [(0,0.0),(0.05,0.25),(0.1,0.4),(0.15,0.3),(0.2,0.35),(0.3,0.15),(0.4,0.1),(0.6,0.07),(0.8,0.06),(1.0,0.05),(1.1,0.08),(1.16,0.25),(1.2,0.45),(1.23,0.46),(1.27,0.6),(1.31,0.7),(1.34,0.83),(1.37,0.78),(1.4,0.6),(1.44,0.4),(1.48,0.3),(1.52,0.25),(1.56,0.2),(1.6,0.12),(1.65,0.06),(1.75,0.03),(2.0,0.02),(2.5,0.015),(3.0,0.01),(5.0,0.004)],
    [(0,0.0),(0.05,0.2),(0.1,0.3),(0.2,0.2),(0.3,0.1),(0.5,0.07),(0.8,0.05),(1.0,0.05),(1.2,0.08),(1.3,0.15),(1.4,0.3),(1.45,0.4),(1.5,0.55),(1.55,0.7),(1.58,0.75),(1.61,0.6),(1.64,0.35),(1.68,0.15),(1.72,0.05),(1.8,0.03),(2.0,0.02),(2.5,0.015),(3.0,0.01),(5.0,0.004)],
    [(0,0.0),(0.05,0.1),(0.1,0.2),(0.2,0.15),(0.3,0.1),(0.5,0.06),(0.8,0.05),(1.0,0.05),(1.1,0.06),(1.2,0.1),(1.25,0.15),(1.3,0.12),(1.35,0.18),(1.4,0.22),(1.45,0.2),(1.5,0.24),(1.55,0.2),(1.6,0.14),(1.65,0.08),(1.7,0.05),(1.8,0.03),(2.0,0.02),(2.5,0.015),(3.0,0.01),(5.0,0.004)],
    [(0,0.0),(0.05,0.1),(0.1,0.2),(0.15,0.15),(0.2,0.12),(0.3,0.08),(0.5,0.05),(0.8,0.04),(1.0,0.04),(1.2,0.08),(1.3,0.18),(1.35,0.2),(1.42,0.15),(1.5,0.12),(1.6,0.08),(1.7,0.04),(1.9,0.03),(2.1,0.04),(2.2,0.03),(2.3,0.05),(2.4,0.15),(2.45,0.5),(2.49,0.78),(2.51,0.85),(2.53,0.82),(2.56,0.55),(2.6,0.2),(2.65,0.08),(2.75,0.05),(2.9,0.04),(3.0,0.03),(3.2,0.02),(3.5,0.01),(4.0,0.008),(5.0,0.005)],
    [(0,0.0),(0.05,0.08),(0.1,0.15),(0.2,0.1),(0.4,0.06),(0.7,0.04),(1.0,0.03),(1.3,0.05),(1.5,0.04),(1.8,0.03),(2.0,0.04),(2.2,0.03),(2.3,0.08),(2.36,0.2),(2.41,0.48),(2.45,0.57),(2.48,0.59),(2.52,0.55),(2.56,0.48),(2.6,0.35),(2.65,0.22),(2.72,0.12),(2.8,0.08),(2.9,0.05),(3.0,0.04),(3.3,0.02),(3.6,0.015),(4.0,0.01),(5.0,0.006)],
    [(0,0.0),(0.05,0.1),(0.1,0.2),(0.2,0.12),(0.4,0.07),(0.7,0.05),(1.0,0.04),(1.5,0.03),(2.0,0.03),(2.2,0.04),(2.3,0.06),(2.38,0.15),(2.45,0.3),(2.5,0.4),(2.53,0.41),(2.57,0.38),(2.6,0.33),(2.64,0.32),(2.68,0.34),(2.72,0.35),(2.76,0.3),(2.82,0.22),(2.88,0.15),(2.95,0.1),(3.05,0.06),(3.2,0.04),(3.4,0.02),(3.6,0.015),(4.0,0.01),(5.0,0.006)],
    [(0,0.0),(0.05,0.06),(0.1,0.12),(0.2,0.08),(0.4,0.05),(0.7,0.04),(1.0,0.03),(1.5,0.03),(2.0,0.03),(2.4,0.04),(2.6,0.06),(2.7,0.15),(2.76,0.35),(2.81,0.5),(2.84,0.53),(2.87,0.45),(2.91,0.38),(2.95,0.45),(2.99,0.58),(3.03,0.62),(3.07,0.62),(3.1,0.6),(3.13,0.5),(3.18,0.3),(3.23,0.15),(3.3,0.06),(3.4,0.04),(3.6,0.03),(4.0,0.015),(5.0,0.01)],
    [(0,0.0),(0.05,0.05),(0.1,0.1),(0.2,0.07),(0.5,0.04),(1.0,0.03),(1.5,0.025),(2.0,0.02),(2.5,0.03),(2.7,0.05),(2.85,0.1),(2.95,0.22),(3.02,0.35),(3.07,0.5),(3.1,0.56),(3.13,0.57),(3.16,0.5),(3.2,0.3),(3.25,0.15),(3.3,0.08),(3.4,0.05),(3.6,0.03),(4.0,0.02),(4.5,0.015),(5.0,0.01)],
    [(0,0.0),(0.05,0.05),(0.1,0.12),(0.2,0.08),(0.5,0.05),(1.0,0.04),(1.5,0.03),(2.0,0.03),(2.5,0.04),(2.75,0.1),(2.85,0.2),(2.9,0.35),(2.95,0.5),(2.98,0.54),(3.01,0.45),(3.05,0.3),(3.1,0.2),(3.15,0.12),(3.25,0.06),(3.4,0.04),(3.7,0.02),(4.0,0.015),(5.0,0.008)],
    [(0,0.0),(0.05,0.04),(0.1,0.1),(0.3,0.05),(0.6,0.04),(1.0,0.03),(1.5,0.03),(2.0,0.02),(2.4,0.04),(2.55,0.08),(2.65,0.12),(2.75,0.1),(2.85,0.15),(2.95,0.2),(3.02,0.25),(3.07,0.23),(3.12,0.22),(3.17,0.24),(3.22,0.2),(3.28,0.14),(3.35,0.08),(3.45,0.05),(3.55,0.04),(3.6,0.08),(3.65,0.07),(3.7,0.04),(3.8,0.03),(3.9,0.09),(3.95,0.06),(4.05,0.03),(4.4,0.02),(4.7,0.03),(5.0,0.015)],
    [(0,0.0),(0.05,0.05),(0.1,0.08),(0.3,0.04),(0.6,0.03),(1.0,0.02),(1.5,0.02),(2.0,0.015),(2.5,0.02),(2.8,0.04),(3.0,0.05),(3.2,0.07),(3.3,0.04),(3.45,0.02),(3.55,0.06),(3.6,0.08),(3.63,0.06),(3.7,0.03),(3.8,0.04),(3.9,0.02),(4.1,0.03),(4.3,0.02),(4.5,0.025),(4.8,0.02),(5.0,0.01)],
    [(0,0.0),(0.05,0.08),(0.1,0.15),(0.3,0.06),(0.6,0.05),(1.0,0.04),(1.2,0.05),(1.4,0.06),(1.6,0.05),(1.7,0.04),(1.8,0.03),(1.85,0.05),(1.9,0.03),(1.95,0.06),(2.0,0.04),(2.05,0.07),(2.1,0.08),(2.15,0.06),(2.2,0.04),(2.3,0.03),(2.6,0.02),(3.0,0.015),(3.5,0.01),(4.0,0.008),(5.0,0.005)],
]

term_labor = [
    [(0,0.0),(0.02,0.05),(0.04,0.55),(0.06,0.57),(0.08,0.75),(0.1,0.95),(0.12,1.0),(0.14,0.8),(0.17,0.6),(0.2,0.4),(0.23,0.3),(0.26,0.2),(0.3,0.15),(0.35,0.1),(0.4,0.07),(0.5,0.05),(0.6,0.04),(0.8,0.03),(1.0,0.02),(1.3,0.015),(1.8,0.01),(2.5,0.006),(3.5,0.004),(5.0,0.003)],
    [(0,0.0),(0.03,0.1),(0.05,0.4),(0.07,0.7),(0.09,0.95),(0.11,0.8),(0.13,1.0),(0.15,0.7),(0.18,0.85),(0.2,0.5),(0.23,0.6),(0.26,0.35),(0.3,0.25),(0.34,0.2),(0.38,0.15),(0.42,0.12),(0.46,0.1),(0.5,0.08),(0.6,0.06),(0.7,0.05),(0.8,0.04),(1.0,0.03),(1.2,0.02),(1.5,0.015),(2.0,0.01),(3.0,0.006),(5.0,0.003)],
    [(0,0.0),(0.03,0.05),(0.06,0.3),(0.09,0.55),(0.12,0.4),(0.15,0.75),(0.18,0.9),(0.2,1.0),(0.22,0.85),(0.25,0.6),(0.28,0.45),(0.31,0.5),(0.34,0.3),(0.38,0.2),(0.42,0.15),(0.46,0.1),(0.5,0.12),(0.55,0.08),(0.6,0.06),(0.7,0.05),(0.8,0.04),(0.9,0.03),(1.0,0.03),(1.2,0.02),(1.5,0.015),(2.0,0.01),(3.0,0.006),(5.0,0.003)],
    [(0,0.0),(0.03,0.08),(0.06,0.4),(0.09,0.7),(0.12,0.55),(0.15,0.85),(0.18,0.6),(0.21,0.7),(0.24,0.45),(0.27,0.55),(0.3,0.35),(0.33,0.45),(0.36,0.3),(0.4,0.35),(0.43,0.25),(0.46,0.4),(0.48,0.58),(0.49,0.61),(0.51,0.55),(0.53,0.45),(0.55,0.35),(0.58,0.2),(0.62,0.12),(0.66,0.08),(0.7,0.06),(0.8,0.05),(0.9,0.04),(1.0,0.03),(1.2,0.02),(1.5,0.015),(2.0,0.01),(3.0,0.006),(5.0,0.003)],
    [(0,0.0),(0.03,0.05),(0.06,0.25),(0.09,0.5),(0.12,0.35),(0.15,0.65),(0.18,0.45),(0.21,0.8),(0.24,1.0),(0.26,0.85),(0.29,0.6),(0.32,0.45),(0.35,0.3),(0.38,0.25),(0.42,0.2),(0.46,0.22),(0.5,0.3),(0.52,0.41),(0.55,0.3),(0.59,0.2),(0.62,0.29),(0.66,0.3),(0.7,0.3),(0.72,0.29),(0.74,0.15),(0.78,0.07),(0.85,0.05),(0.95,0.04),(1.05,0.03),(1.2,0.02),(1.5,0.015),(2.0,0.01),(3.0,0.006),(5.0,0.003)],
    [(0,0.0),(0.03,0.03),(0.06,0.2),(0.09,0.4),(0.12,0.3),(0.15,0.5),(0.18,0.35),(0.21,0.55),(0.24,0.4),(0.27,0.3),(0.3,0.2),(0.34,0.25),(0.38,0.15),(0.42,0.18),(0.46,0.12),(0.5,0.15),(0.54,0.1),(0.58,0.12),(0.62,0.1),(0.65,0.24),(0.67,0.27),(0.69,0.25),(0.71,0.1),(0.75,0.06),(0.8,0.05),(0.85,0.04),(0.89,0.05),(0.92,0.14),(0.94,0.16),(0.97,0.14),(0.99,0.07),(1.02,0.05),(1.05,0.07),(1.1,0.03),(1.2,0.04),(1.3,0.03),(1.4,0.04),(1.5,0.03),(1.55,0.06),(1.6,0.07),(1.65,0.05),(1.7,0.09),(1.75,0.1),(1.8,0.09),(1.85,0.03),(2.0,0.015),(2.3,0.01),(2.5,0.02),(2.6,0.01),(3.0,0.008),(4.0,0.005),(5.0,0.003)],
    [(0,0.0),(0.03,0.05),(0.06,0.35),(0.08,0.5),(0.1,0.8),(0.12,0.6),(0.14,0.95),(0.16,0.7),(0.19,0.9),(0.21,0.55),(0.24,0.7),(0.27,0.4),(0.3,0.55),(0.33,0.3),(0.36,0.2),(0.4,0.15),(0.45,0.1),(0.5,0.08),(0.6,0.06),(0.7,0.05),(0.8,0.04),(0.9,0.03),(1.0,0.03),(1.1,0.02),(1.3,0.03),(1.5,0.02),(1.8,0.015),(2.2,0.01),(2.4,0.03),(2.45,0.01),(2.5,0.03),(2.55,0.01),(3.0,0.008),(4.0,0.005),(5.0,0.003)],
    [(0,0.0),(0.03,0.02),(0.06,0.15),(0.09,0.3),(0.12,0.25),(0.15,0.45),(0.18,0.35),(0.21,0.6),(0.24,0.5),(0.27,0.75),(0.3,0.9),(0.32,1.0),(0.34,0.95),(0.36,0.7),(0.38,0.4),(0.41,0.25),(0.45,0.2),(0.5,0.15),(0.55,0.12),(0.6,0.1),(0.7,0.07),(0.8,0.05),(0.9,0.04),(1.0,0.04),(1.1,0.03),(1.2,0.05),(1.3,0.04),(1.4,0.05),(1.5,0.03),(1.7,0.02),(2.0,0.01),(2.8,0.008),(2.9,0.04),(2.95,0.06),(3.0,0.05),(3.05,0.03),(3.1,0.05),(3.15,0.03),(3.25,0.09),(3.3,0.09),(3.32,0.04),(3.4,0.03),(3.5,0.035),(3.55,0.04),(3.6,0.03),(3.7,0.01),(4.0,0.005),(5.0,0.003)],
    [(0,0.0),(0.03,0.06),(0.05,0.3),(0.06,0.58),(0.08,0.58),(0.1,0.45),(0.12,0.7),(0.14,0.5),(0.16,0.6),(0.18,0.35),(0.21,0.4),(0.24,0.25),(0.27,0.3),(0.3,0.18),(0.34,0.2),(0.38,0.12),(0.42,0.15),(0.46,0.09),(0.5,0.1),(0.55,0.06),(0.6,0.07),(0.7,0.05),(0.8,0.04),(1.0,0.03),(1.2,0.03),(1.45,0.05),(1.5,0.04),(1.55,0.08),(1.6,0.07),(1.65,0.03),(1.8,0.02),(2.0,0.01),(2.5,0.008),(3.0,0.01),(3.1,0.02),(3.2,0.01),(3.4,0.02),(3.6,0.03),(3.7,0.01),(4.5,0.01),(4.6,0.02),(4.7,0.01),(5.0,0.003)],
    [(0,0.0),(0.03,0.1),(0.05,0.5),(0.07,0.85),(0.09,1.0),(0.11,0.9),(0.13,0.7),(0.16,0.5),(0.19,0.6),(0.22,0.35),(0.25,0.45),(0.28,0.3),(0.32,0.25),(0.36,0.15),(0.4,0.2),(0.44,0.12),(0.48,0.08),(0.55,0.07),(0.6,0.05),(0.7,0.04),(0.8,0.03),(1.0,0.02),(1.5,0.015),(2.0,0.01),(3.0,0.006),(5.0,0.003)],
    [(0,0.0),(0.03,0.1),(0.05,0.45),(0.07,0.75),(0.09,0.55),(0.11,0.9),(0.13,0.65),(0.15,1.0),(0.17,0.7),(0.19,0.9),(0.21,0.6),(0.23,0.8),(0.25,0.5),(0.27,0.65),(0.29,0.4),(0.31,0.5),(0.34,0.3),(0.37,0.35),(0.4,0.2),(0.44,0.22),(0.48,0.12),(0.52,0.15),(0.56,0.08),(0.6,0.1),(0.65,0.06),(0.7,0.07),(0.8,0.04),(0.9,0.035),(1.0,0.03),(1.3,0.02),(2.0,0.01),(3.0,0.006),(5.0,0.003)],
    [(0,0.0),(0.03,0.04),(0.05,0.25),(0.07,0.5),(0.09,0.35),(0.11,0.65),(0.13,0.45),(0.15,0.8),(0.17,0.55),(0.19,0.75),(0.21,0.5),(0.23,0.95),(0.25,0.7),(0.27,0.85),(0.29,0.55),(0.31,0.65),(0.33,0.4),(0.35,0.5),(0.38,0.3),(0.41,0.35),(0.44,0.2),(0.48,0.18),(0.52,0.12),(0.56,0.1),(0.6,0.08),(0.7,0.06),(0.8,0.05),(0.9,0.04),(1.0,0.03),(1.1,0.04),(1.2,0.03),(1.4,0.02),(2.0,0.01),(3.0,0.006),(5.0,0.003)],
]

PANELS = [preterm_nonlabor, preterm_labor, term_nonlabor, term_labor]

# ---------------------------------------------------------------- style

sns.set_theme(style="white")
plt.rcParams["font.family"] = ["Liberation Sans", "DejaVu Sans"]

AX_COLOR = "#262626"
LINE_COLOR = "#0000ff"

fig = plt.figure(figsize=(12.36, 10.06), dpi=100)
positions = [[0.0785, 0.5895, 0.3932, 0.3678],
             [0.5939, 0.5895, 0.3916, 0.3678],
             [0.0785, 0.0785, 0.3932, 0.3678],
             [0.5939, 0.0785, 0.3916, 0.3678]]


def to_frame(curves):
    rows = []
    for k, curve in enumerate(curves):
        for f, a in curve:
            rows.append((k, f, a))
    return pd.DataFrame(rows, columns=["curve", "freq", "amp"])


for pos, curves, note in zip(positions, PANELS, PANEL_NOTES):
    ax = fig.add_axes(pos)
    df = to_frame(curves)
    sns.lineplot(data=df, x="freq", y="amp", units="curve", estimator=None, sort=False,
                 color=LINE_COLOR, linewidth=1.8, legend=False, ax=ax)

    ax.vlines(BAND_EDGES, 0, 0.7, color="black", linewidth=1.6, zorder=5)
    for bx, name in zip(BAND_LABEL_X, BAND_NAMES):
        ax.text(bx, 0.7, name, ha="center", va="center", fontsize=18, color="black", zorder=6)

    ax.text(0.444, 0.972, note, transform=ax.transAxes, ha="left", va="top",
            fontsize=17.5, linespacing=0.95, color="black")
    ax.text(0.443, 1.06, TITLE, transform=ax.transAxes, ha="center", va="center",
            fontsize=20.3, fontweight="bold", color="black")

    ax.set_xlim(0, 5)
    ax.set_ylim(0, 1)
    ax.set_xticks(X_TICKS)
    ax.set_yticks(Y_TICKS)
    ax.set_yticklabels(Y_TICK_LABELS)
    ax.tick_params(direction="in", length=6, width=1.1, color=AX_COLOR, labelsize=18.5,
                   labelcolor=AX_COLOR, left=True, bottom=True)
    ax.tick_params(axis="x", pad=12)
    ax.tick_params(axis="y", pad=10)
    for side in ["top", "right"]:
        ax.spines[side].set_visible(False)
    for side in ["left", "bottom"]:
        ax.spines[side].set_color(AX_COLOR)
        ax.spines[side].set_linewidth(1.1)

    ax.set_xlabel("Frequency [Hz]", fontsize=20.5, color=AX_COLOR)
    ax.set_ylabel("Normalized amplitude", fontsize=20.5, color=AX_COLOR)
    ax.xaxis.set_label_coords(0.5, -0.13)
    ax.yaxis.set_label_coords(-0.125, 0.5)
    ax.set_facecolor("white")

fig.savefig("out.png", dpi=100, facecolor="white")
